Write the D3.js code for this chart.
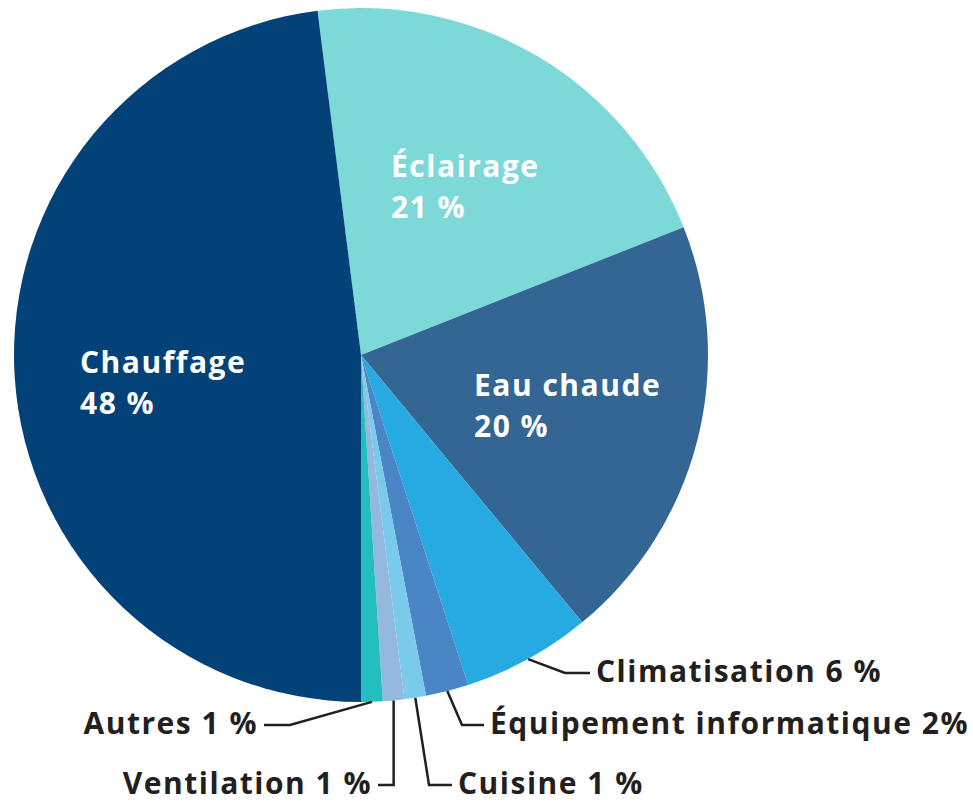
<!DOCTYPE html>
<html>
<head>
<meta charset="utf-8">
<script src="https://cdn.jsdelivr.net/npm/d3@7"></script>
<style>
  body { margin: 0; background: #fff; }
  svg text { font-family: "Open Sans", sans-serif; font-weight: 700; letter-spacing: 1.5px; }
</style>
</head>
<body>
<div id="chart"></div>
<script>
//Data;
const categories = ["Éclairage","Eau chaude","Climatisation","Équipement informatique","Cuisine","Ventilation","Autres","Chauffage"];
const values = [21,20,6,2,1,1,1,48];
const labels = ["21 %","20 %","6 %","2%","1 %","1 %","1 %","48 %"];
const colors = ["#7dd8d8","#346693","#27a9e1","#4a86c5","#7acbeb","#95b8de","#22bfbe","#024279"];

//Sizes;
const w=973;
const h=802;
const cx=361, cy=355, r=347;

const svg = d3.select("#chart")
              .append("svg")
                .attr("width", w)
                .attr("height", h);

//Pie layout, starting a little left of top;
const start = -0.02*2*Math.PI;
const pie = d3.pie()
              .sort(null)
              .value(function(d){ return d.value; })
              .startAngle(start)
              .endAngle(start + 2*Math.PI);

const arc = d3.arc().innerRadius(0).outerRadius(r);
const edge = d3.arc().innerRadius(r).outerRadius(r);

const data = categories.map(function(c,i){
  return {name: c, value: values[i], label: labels[i], color: colors[i]};
});
const arcs = pie(data);

const g = svg.append("g")
             .attr("transform","translate(" + cx + "," + cy + ")");

//Slices;
g.selectAll("path.slice")
  .data(arcs)
  .enter()
 .append("path")
  .attr("class","slice")
  .attr("d", arc)
  .attr("fill", function(d){ return d.data.color; });

//Label layout (text position relative to page, elbow of leader);
const inside = {
  "Éclairage":  {x:391, y:177},
  "Eau chaude": {x:474, y:396},
  "Chauffage":  {x:80,  y:373}
};
const outside = {
  "Climatisation":           {x:596, y:682, anchor:"start", ex:565},
  "Équipement informatique": {x:490, y:734, anchor:"start", ex:462},
  "Cuisine":                 {x:458, y:794, anchor:"start", ex:429},
  "Ventilation":             {x:372, y:794, anchor:"end",   ex:null},
  "Autres":                  {x:258, y:734, anchor:"end",   ex:290}
};

//Inside labels;
arcs.filter(function(d){ return inside[d.data.name]; }).forEach(function(d){
  const p = inside[d.data.name];
  const t = svg.append("text")
               .attr("x", p.x)
               .attr("y", p.y)
               .attr("fill","#fff")
               .attr("font-size","30px");
  t.append("tspan").attr("x", p.x).text(d.data.name);
  t.append("tspan").attr("x", p.x).attr("dy", 41).text(d.data.label);
});

//Outside labels with leader lines;
arcs.filter(function(d){ return outside[d.data.name]; }).forEach(function(d){
  const p = outside[d.data.name];
  const c = edge.centroid(d);
  const sx = cx + c[0], sy = cy + c[1];
  const ly = p.y - 9;
  const ex = p.ex === null ? sx : p.ex;
  const endx = p.anchor === "start" ? p.x - 6 : p.x + 6;

  svg.append("path")
     .attr("d", d3.line()([[sx,sy],[ex,ly],[endx,ly]]))
     .attr("fill","none")
     .attr("stroke","#231f20")
     .attr("stroke-width",2.5);

  svg.append("text")
     .attr("x", p.x)
     .attr("y", p.y)
     .attr("text-anchor", p.anchor)
     .attr("fill","#231f20")
     .attr("font-size","30px")
     .text(d.data.name + " " + d.data.label);
});
</script>
</body>
</html>
